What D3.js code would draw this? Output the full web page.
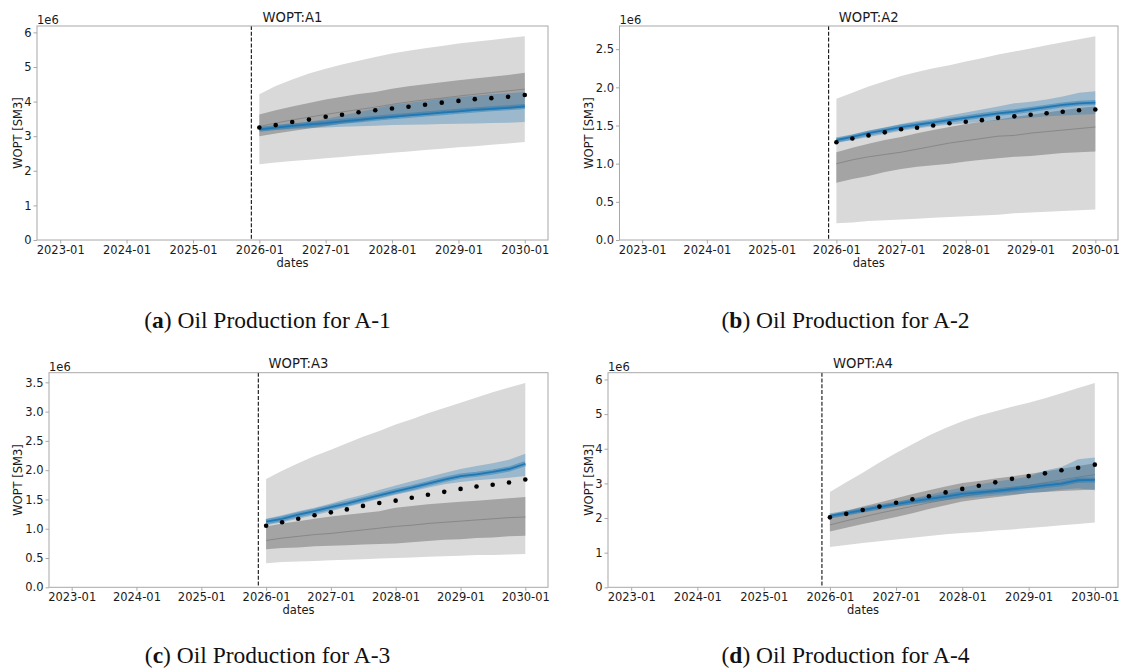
<!DOCTYPE html>
<html>
<head>
<meta charset="utf-8">
<script src="https://cdn.jsdelivr.net/npm/d3@7"></script>
<style>
  body { margin: 0; background: #fff; }
  svg text { font-family: "DejaVu Sans", sans-serif; fill: #1a1a1a; }
  text.caption { font-family: "Liberation Serif", serif; fill: #111; }
</style>
</head>
<body>
<div id="chart"></div>
<script>
const width = 1121;
const height = 672;

// quarterly report dates of the forecast
const dates = ["2026-01-01", "2026-04-01", "2026-07-01", "2026-10-01",
  "2027-01-01", "2027-04-01", "2027-07-01", "2027-10-01",
  "2028-01-01", "2028-04-01", "2028-07-01", "2028-10-01",
  "2029-01-01", "2029-04-01", "2029-07-01", "2029-10-01", "2030-01-01"];
const xStart = "2023-01-01";
const xEnd = "2030-01-01";
const splitDate = "2025-11-18";
const yearTicks = ["2023-01-01", "2024-01-01", "2025-01-01", "2026-01-01",
  "2027-01-01", "2028-01-01", "2029-01-01", "2030-01-01"];

// values in 1e6 SM3
const a1Obs = [3.25, 3.32, 3.41, 3.48, 3.56, 3.62, 3.69, 3.75, 3.80, 3.85, 3.91, 3.97, 4.02, 4.07, 4.10, 4.14, 4.19];
const a1LightLo = [2.19, 2.24, 2.28, 2.32, 2.36, 2.40, 2.44, 2.48, 2.52, 2.56, 2.60, 2.64, 2.68, 2.71, 2.75, 2.79, 2.83];
const a1LightHi = [4.21, 4.45, 4.64, 4.81, 4.95, 5.07, 5.18, 5.29, 5.39, 5.47, 5.54, 5.61, 5.68, 5.73, 5.78, 5.84, 5.89];
const a1DarkLo = [3.00, 3.08, 3.15, 3.22, 3.29, 3.36, 3.42, 3.48, 3.53, 3.58, 3.62, 3.66, 3.70, 3.73, 3.76, 3.79, 3.82];
const a1DarkHi = [3.63, 3.75, 3.86, 3.96, 4.06, 4.14, 4.22, 4.28, 4.37, 4.44, 4.50, 4.56, 4.62, 4.67, 4.72, 4.77, 4.83];
const a1Median = [3.28, 3.38, 3.47, 3.55, 3.63, 3.70, 3.77, 3.84, 3.92, 3.99, 4.05, 4.10, 4.16, 4.21, 4.26, 4.31, 4.36];
const a1BlueLo = [3.15, 3.18, 3.21, 3.23, 3.25, 3.27, 3.29, 3.30, 3.32, 3.33, 3.34, 3.35, 3.36, 3.37, 3.38, 3.39, 3.41];
const a1BlueHi = [3.25, 3.30, 3.36, 3.42, 3.50, 3.60, 3.70, 3.80, 3.90, 3.96, 4.02, 4.08, 4.13, 4.17, 4.21, 4.24, 4.28];
const a1BlueMid = [3.20, 3.25, 3.30, 3.34, 3.38, 3.43, 3.47, 3.52, 3.56, 3.60, 3.64, 3.68, 3.72, 3.76, 3.79, 3.82, 3.86];

const a2Obs = [1.28, 1.33, 1.37, 1.41, 1.45, 1.47, 1.50, 1.53, 1.55, 1.57, 1.60, 1.62, 1.64, 1.66, 1.68, 1.70, 1.71];
const a2LightLo = [0.22, 0.23, 0.25, 0.26, 0.27, 0.28, 0.29, 0.30, 0.31, 0.32, 0.33, 0.35, 0.36, 0.37, 0.38, 0.39, 0.40];
const a2LightHi = [1.85, 1.93, 2.01, 2.08, 2.15, 2.20, 2.25, 2.29, 2.34, 2.38, 2.43, 2.47, 2.51, 2.55, 2.59, 2.63, 2.67];
const a2DarkLo = [0.75, 0.80, 0.84, 0.89, 0.93, 0.96, 0.98, 1.00, 1.03, 1.05, 1.07, 1.09, 1.10, 1.12, 1.14, 1.15, 1.16];
const a2DarkHi = [1.15, 1.21, 1.26, 1.31, 1.35, 1.40, 1.44, 1.48, 1.52, 1.55, 1.58, 1.61, 1.64, 1.67, 1.70, 1.73, 1.75];
const a2Median = [1.00, 1.05, 1.09, 1.12, 1.15, 1.19, 1.23, 1.27, 1.30, 1.33, 1.36, 1.37, 1.40, 1.42, 1.44, 1.46, 1.48];
const a2BlueLo = [1.27, 1.31, 1.35, 1.39, 1.43, 1.46, 1.49, 1.51, 1.53, 1.55, 1.57, 1.59, 1.60, 1.62, 1.63, 1.64, 1.65];
const a2BlueHi = [1.33, 1.38, 1.43, 1.47, 1.52, 1.56, 1.59, 1.63, 1.67, 1.71, 1.75, 1.79, 1.81, 1.84, 1.88, 1.93, 1.95];
const a2BlueMid = [1.31, 1.35, 1.40, 1.44, 1.48, 1.51, 1.54, 1.57, 1.60, 1.63, 1.66, 1.68, 1.71, 1.74, 1.77, 1.79, 1.80];

const a3Obs = [1.05, 1.11, 1.17, 1.23, 1.28, 1.33, 1.39, 1.44, 1.48, 1.53, 1.58, 1.63, 1.68, 1.72, 1.75, 1.79, 1.84];
const a3LightLo = [0.41, 0.43, 0.44, 0.45, 0.46, 0.47, 0.48, 0.49, 0.50, 0.51, 0.52, 0.53, 0.54, 0.55, 0.55, 0.56, 0.57];
const a3LightHi = [1.85, 1.99, 2.12, 2.24, 2.35, 2.46, 2.57, 2.67, 2.78, 2.87, 2.97, 3.06, 3.15, 3.24, 3.33, 3.41, 3.49];
const a3DarkLo = [0.65, 0.67, 0.68, 0.70, 0.71, 0.72, 0.73, 0.74, 0.75, 0.77, 0.79, 0.81, 0.82, 0.84, 0.85, 0.87, 0.88];
const a3DarkHi = [1.04, 1.09, 1.13, 1.17, 1.21, 1.24, 1.27, 1.30, 1.36, 1.39, 1.42, 1.44, 1.46, 1.48, 1.50, 1.52, 1.54];
const a3Median = [0.80, 0.84, 0.87, 0.90, 0.92, 0.95, 0.98, 1.01, 1.04, 1.06, 1.09, 1.11, 1.13, 1.15, 1.17, 1.19, 1.20];
const a3BlueLo = [1.06, 1.11, 1.17, 1.23, 1.30, 1.37, 1.44, 1.51, 1.58, 1.64, 1.70, 1.76, 1.80, 1.83, 1.85, 1.87, 1.90];
const a3BlueHi = [1.17, 1.23, 1.30, 1.36, 1.43, 1.51, 1.58, 1.66, 1.74, 1.81, 1.88, 1.95, 2.02, 2.07, 2.12, 2.18, 2.28];
const a3BlueMid = [1.12, 1.17, 1.24, 1.30, 1.37, 1.43, 1.50, 1.57, 1.64, 1.70, 1.77, 1.84, 1.90, 1.93, 1.97, 2.02, 2.11];

const a4Obs = [2.02, 2.12, 2.23, 2.33, 2.44, 2.54, 2.63, 2.74, 2.84, 2.93, 3.03, 3.13, 3.21, 3.29, 3.38, 3.45, 3.54];
const a4LightLo = [1.16, 1.22, 1.28, 1.33, 1.38, 1.43, 1.48, 1.53, 1.57, 1.60, 1.64, 1.67, 1.71, 1.75, 1.79, 1.83, 1.87];
const a4LightHi = [2.75, 3.03, 3.31, 3.60, 3.88, 4.13, 4.38, 4.60, 4.79, 4.95, 5.08, 5.21, 5.33, 5.46, 5.60, 5.75, 5.90];
const a4DarkLo = [1.61, 1.72, 1.83, 1.93, 2.03, 2.14, 2.26, 2.37, 2.48, 2.54, 2.60, 2.66, 2.72, 2.75, 2.78, 2.80, 2.82];
const a4DarkHi = [2.09, 2.21, 2.33, 2.45, 2.57, 2.69, 2.80, 2.91, 3.01, 3.07, 3.14, 3.20, 3.27, 3.34, 3.42, 3.50, 3.58];
const a4Median = [1.80, 1.92, 2.03, 2.14, 2.24, 2.34, 2.44, 2.53, 2.62, 2.70, 2.78, 2.86, 2.94, 3.02, 3.10, 3.18, 3.25];
const a4BlueLo = [2.01, 2.09, 2.17, 2.25, 2.33, 2.39, 2.45, 2.51, 2.57, 2.61, 2.65, 2.68, 2.72, 2.76, 2.82, 2.86, 2.80];
const a4BlueHi = [2.10, 2.18, 2.27, 2.36, 2.45, 2.56, 2.67, 2.78, 2.88, 2.97, 3.05, 3.12, 3.19, 3.37, 3.47, 3.70, 3.75];
const a4BlueMid = [2.06, 2.14, 2.23, 2.32, 2.40, 2.48, 2.55, 2.62, 2.70, 2.74, 2.78, 2.83, 2.88, 2.94, 2.99, 3.09, 3.10];

const titles = ["WOPT:A1", "WOPT:A2", "WOPT:A3", "WOPT:A4"];
const captionLetters = ["a", "b", "c", "d"];
const captionTexts = ["Oil Production for A-1", "Oil Production for A-2",
  "Oil Production for A-3", "Oil Production for A-4"];
const yTicks = [
  [0, 1, 2, 3, 4, 5, 6],
  [0, 0.5, 1, 1.5, 2, 2.5],
  [0, 0.5, 1, 1.5, 2, 2.5, 3, 3.5],
  [0, 1, 2, 3, 4, 5, 6]
];
const yFormats = ["d", ".1f", ".1f", "d"];

const series = [
  {obs: a1Obs, lightLo: a1LightLo, lightHi: a1LightHi, darkLo: a1DarkLo, darkHi: a1DarkHi, median: a1Median, blueLo: a1BlueLo, blueHi: a1BlueHi, blueMid: a1BlueMid},
  {obs: a2Obs, lightLo: a2LightLo, lightHi: a2LightHi, darkLo: a2DarkLo, darkHi: a2DarkHi, median: a2Median, blueLo: a2BlueLo, blueHi: a2BlueHi, blueMid: a2BlueMid},
  {obs: a3Obs, lightLo: a3LightLo, lightHi: a3LightHi, darkLo: a3DarkLo, darkHi: a3DarkHi, median: a3Median, blueLo: a3BlueLo, blueHi: a3BlueHi, blueMid: a3BlueMid},
  {obs: a4Obs, lightLo: a4LightLo, lightHi: a4LightHi, darkLo: a4DarkLo, darkHi: a4DarkHi, median: a4Median, blueLo: a4BlueLo, blueHi: a4BlueHi, blueMid: a4BlueMid}
];

// axes frames [left, top, right, bottom] and caption centres
const frames = [
  [37, 26, 548, 240],
  [619.5, 26, 1118, 240],
  [49, 372.7, 548, 587.3],
  [608, 372.7, 1118, 587.3]
];
const captionPos = [[267.5, 327.5], [845.5, 327.5], [267.5, 662.5], [845.5, 662.5]];

const parse = d3.timeParse("%Y-%m-%d");
const dateVals = dates.map(parse);

const svg = d3.select("#chart")
    .append("svg")
    .attr("width", width)
    .attr("height", height);

const spineColor = "#a8a8a8";

series.forEach((s, i) => {
    const [x0, y0, x1, y1] = frames[i];
    const t0 = parse(xStart), t1 = parse(xEnd);
    const pad = (t1 - t0) * 0.05;
    const x = d3.scaleTime()
        .domain([new Date(+t0 - pad), new Date(+t1 + pad)])
        .range([x0, x1]);
    const y = d3.scaleLinear()
        .domain([0, d3.max(s.lightHi) * 1.05])
        .range([y1, y0]);

    const g = svg.append("g");
    const rows = dateVals.map((d, k) => ({
        date: d, obs: s.obs[k], lightLo: s.lightLo[k], lightHi: s.lightHi[k],
        darkLo: s.darkLo[k], darkHi: s.darkHi[k], median: s.median[k],
        blueLo: s.blueLo[k], blueHi: s.blueHi[k], blueMid: s.blueMid[k]
    }));

    const band = (lo, hi) => d3.area()
        .x(d => x(d.date))
        .y0(d => y(d[lo]))
        .y1(d => y(d[hi]));
    const line = key => d3.line()
        .x(d => x(d.date))
        .y(d => y(d[key]));

    g.append("path").datum(rows)
        .attr("d", band("lightLo", "lightHi"))
        .attr("fill", "#d9d9d9");
    g.append("path").datum(rows)
        .attr("d", band("darkLo", "darkHi"))
        .attr("fill", "#a4a4a4");
    g.append("path").datum(rows)
        .attr("d", line("median"))
        .attr("fill", "none")
        .attr("stroke", "#888")
        .attr("stroke-width", 1);
    g.append("path").datum(rows)
        .attr("d", band("blueLo", "blueHi"))
        .attr("fill", "#1f77b4")
        .attr("fill-opacity", 0.33);
    g.append("path").datum(rows)
        .attr("d", line("blueMid"))
        .attr("fill", "none")
        .attr("stroke", "#1f77b4")
        .attr("stroke-opacity", 0.45)
        .attr("stroke-width", 5);
    g.append("path").datum(rows)
        .attr("d", line("blueMid"))
        .attr("fill", "none")
        .attr("stroke", "#1f77b4")
        .attr("stroke-width", 1.8);

    g.selectAll("circle.obs")
        .data(rows)
        .join("circle")
        .attr("class", "obs")
        .attr("cx", d => x(d.date))
        .attr("cy", d => y(d.obs))
        .attr("r", 2.3)
        .attr("fill", "#000");

    const xs = x(parse(splitDate));
    g.append("line")
        .attr("x1", xs).attr("x2", xs)
        .attr("y1", y0).attr("y2", y1)
        .attr("stroke", "#111")
        .attr("stroke-width", 1.1)
        .attr("stroke-dasharray", "4,1.8");

    // frame
    g.append("rect")
        .attr("x", x0).attr("y", y0)
        .attr("width", x1 - x0).attr("height", y1 - y0)
        .attr("fill", "none")
        .attr("stroke", spineColor)
        .attr("stroke-width", 1);

    const xAxis = g.append("g")
        .attr("transform", `translate(0,${y1})`)
        .call(d3.axisBottom(x)
            .tickValues(yearTicks.map(parse))
            .tickFormat(d3.timeFormat("%Y-%m"))
            .tickSize(3.5)
            .tickPadding(2));
    const yAxis = g.append("g")
        .attr("transform", `translate(${x0},0)`)
        .call(d3.axisLeft(y)
            .tickValues(yTicks[i])
            .tickFormat(d3.format(yFormats[i]))
            .tickSize(3.5)
            .tickPadding(2));
    [xAxis, yAxis].forEach(ax => {
        ax.select(".domain").remove();
        ax.selectAll(".tick line").attr("stroke", spineColor);
        ax.selectAll(".tick text")
            .attr("font-size", 11.5)
            .attr("font-family", "DejaVu Sans, sans-serif")
            .attr("fill", "#1a1a1a");
    });

    g.append("text")
        .attr("x", (x0 + x1) / 2)
        .attr("y", y0 - 4.5)
        .attr("text-anchor", "middle")
        .attr("font-size", 13.2)
        .text(titles[i]);
    g.append("text")
        .attr("x", x0)
        .attr("y", y0 - 2)
        .attr("font-size", 11.5)
        .text("1e6");
    g.append("text")
        .attr("x", (x0 + x1) / 2)
        .attr("y", y1 + 27)
        .attr("text-anchor", "middle")
        .attr("font-size", 11.5)
        .text("dates");
    g.append("text")
        .attr("transform", `translate(${i % 2 === 0 ? 22 : 593},${(y0 + y1) / 2}) rotate(-90)`)
        .attr("text-anchor", "middle")
        .attr("font-size", 11.5)
        .text("WOPT [SM3]");

    const cap = svg.append("text")
        .attr("class", "caption")
        .attr("x", captionPos[i][0])
        .attr("y", captionPos[i][1])
        .attr("text-anchor", "middle")
        .attr("font-size", 23.5);
    cap.append("tspan").text("(");
    cap.append("tspan").attr("font-weight", "bold").text(captionLetters[i]);
    cap.append("tspan").text(") " + captionTexts[i]);
});
</script>
</body>
</html>
